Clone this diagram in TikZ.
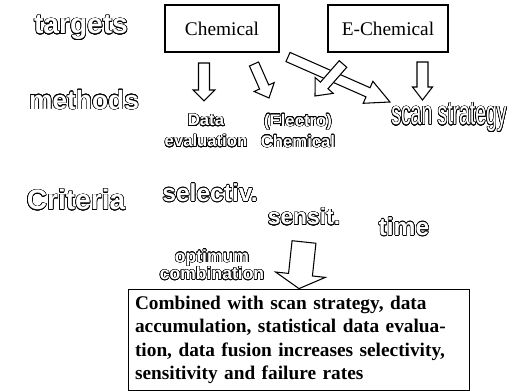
\documentclass[tikz,border=0pt]{standalone}
\usepackage{fontspec}
\setmainfont{Liberation Serif}
\setsansfont{Liberation Sans}
\usepackage{contour}
\contourlength{0.32pt}
\contournumber{20}
\usetikzlibrary{calc}

\def\pxu{0.02cm}
\newcommand{\hollow}[1]{\contour{black}{#1}}
% hollow block arrow: tail, tip, shaft half width, head half width, head length (in px)
\newcommand{\blockarrow}[5]{%
  \coordinate (ba-q) at ($(#2)!#5*\pxu!(#1)$);
  \draw[blockarrow] ($(#1)!#3*\pxu!90:(#2)$) -- ($(ba-q)!#3*\pxu!90:(#2)$)
    -- ($(ba-q)!#4*\pxu!90:(#2)$) -- (#2) -- ($(ba-q)!#4*\pxu!-90:(#2)$)
    -- ($(ba-q)!#3*\pxu!-90:(#2)$) -- ($(#1)!#3*\pxu!-90:(#2)$) -- cycle;
}

\tikzset{
    targetbox/.style={
        rectangle,
        draw=black,
        line width=0.6pt,
        minimum height=0.94cm,
        font=\fontsize{11}{13}\selectfont
    },
    sumbox/.style={
        rectangle,
        draw=black,
        line width=0.6pt,
        minimum width=6.84cm,
        minimum height=1.97cm,
        text width=6.56cm,
        inner sep=0.14cm,
        align=left,
        font=\bfseries\fontsize{11}{13.3}\selectfont
    },
    blockarrow/.style={
        draw=black,
        fill=white,
        line width=0.6pt,
        line join=miter
    },
    rowword/.style={
        text=white,
        font=\sffamily\bfseries\fontsize{16}{19}\selectfont
    },
    critword/.style={
        text=white,
        font=\sffamily\bfseries\fontsize{14}{17}\selectfont
    },
    smallword/.style={
        text=white,
        align=center,
        inner sep=0pt,
        font=\sffamily\bfseries\fontsize{9.5}{12}\selectfont
    }
}

\begin{document}
\begin{tikzpicture}[x=0.02cm, y=-0.02cm]
\useasboundingbox (0,0) rectangle (512,391);

% row titles
\node[rowword] (targets) at (81,28) {\hollow{targets}};
\node[rowword, font=\sffamily\bfseries\fontsize{15}{18}\selectfont] (methods) at (84,100) {\hollow{methods}};
\node[rowword] (criteria) at (76,200) {\hollow{Criteria}};

% targets
\node[targetbox, minimum width=2.28cm] (chem) at (222,28.5) {Chemical};
\node[targetbox, minimum width=2.4cm] (echem) at (388,28.5) {E-Chemical};

% methods
\node[smallword] (dataeval) at (206,131) {\hollow{Data}\\\hollow{evaluation}};
\node[smallword] (electro) at (298,131) {\hollow{(Electro)}\\\hollow{Chemical}};
\node[text=white, font=\sffamily\fontsize{12}{14}\selectfont] (scan) at (449,118)
    {\scalebox{0.92}[1.6]{\hollow{scan strategy}}};

% criteria
\node[critword] (selectiv) at (210,193) {\hollow{selectiv.}};
\node[critword, font=\sffamily\bfseries\fontsize{13}{16}\selectfont] (sensit) at (304,217) {\hollow{sensit.}};
\node[critword] (time) at (404,227) {\hollow{time}};
\node[smallword, font=\sffamily\bfseries\fontsize{10}{9.8}\selectfont] (optimum) at (212,265)
    {\hollow{optimum}\\\hollow{combination}};

% result
\node[sumbox] (result) at (299,340) {Combined with scan strategy, data\\
    accumulation, statistical data evalua-\\
    tion, data fusion increases selectivity,\\
    sensitivity and failure rates};

% arrow ends
\coordinate (a1-tail) at (204,63);
\coordinate (a1-tip) at (204,101);
\coordinate (a2-tail) at (254,64);
\coordinate (a2-tip) at (269,98);
\coordinate (a3-tail) at (343,64);
\coordinate (a3-tip) at (315,96);
\coordinate (a4-tail) at (288,57);
\coordinate (a4-tip) at (390,102);
\coordinate (a5-tail) at (422.5,62);
\coordinate (a5-tip) at (422.5,100);
\coordinate (opt-tail) at (304,242);

\blockarrow{a1-tail}{a1-tip}{5.5}{11}{11}
\blockarrow{a2-tail}{a2-tip}{5}{11}{12}
\blockarrow{a4-tail}{a4-tip}{5}{12}{24}
\blockarrow{a3-tail}{a3-tip}{5}{12}{14}
\blockarrow{a5-tail}{a5-tip}{5.5}{10}{13}
\blockarrow{opt-tail}{result.north}{12}{25}{14}

\end{tikzpicture}
\end{document}
